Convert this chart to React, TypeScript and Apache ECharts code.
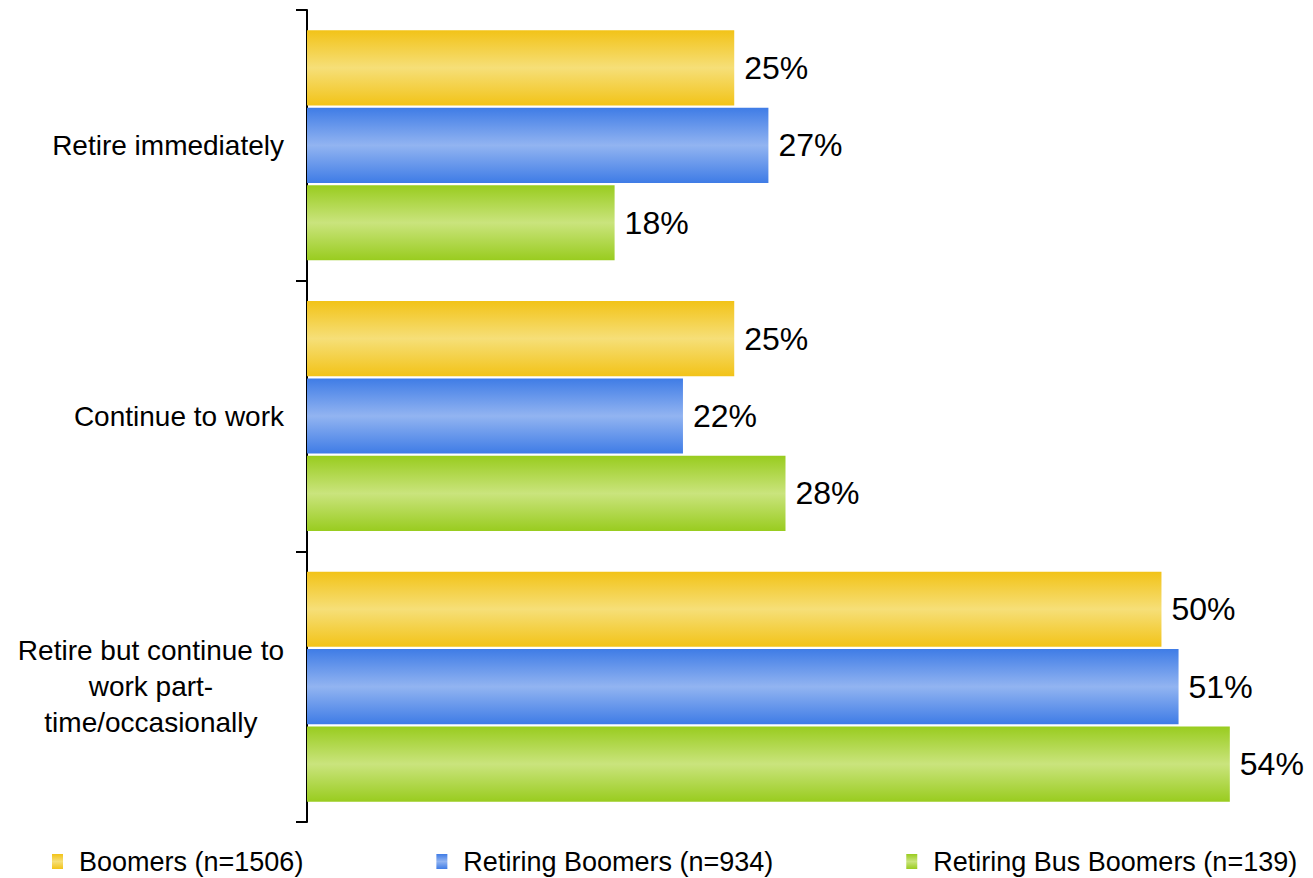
import React, { useEffect, useRef } from "react";
import * as echarts from "echarts";

const categories = [
  "Retire immediately",
  "Continue to work",
  "Retire but continue to work part-time/occasionally",
];
const seriesNames = [
  "Boomers (n=1506)",
  "Retiring Boomers (n=934)",
  "Retiring Bus Boomers (n=139)",
];
const boomers = [25, 25, 50];
const retiringBoomers = [27, 22, 51];
const retiringBusBoomers = [18, 28, 54];

const FONT = "'Liberation Sans', Arial, sans-serif";

const grad = (edge: string, mid: string) =>
  new echarts.graphic.LinearGradient(0, 0, 0, 1, [
    { offset: 0, color: edge },
    { offset: 0.5, color: mid },
    { offset: 1, color: edge },
  ]);

export default function App() {
  const ref = useRef<HTMLDivElement>(null);
  useEffect(() => {
    if (!ref.current) return;
    const chart = echarts.init(ref.current, undefined, { renderer: "svg" });
    const colors = [
      grad("#F2C318", "#F6DF78"),
      grad("#3F7CE6", "#92B4F1"),
      grad("#99CC1F", "#CAE47D"),
    ];
    const data = [boomers, retiringBoomers, retiringBusBoomers];
    chart.setOption({
      animation: false,
      grid: { left: 307, top: 10, bottom: 56, right: 49, containLabel: false },
      legend: {
        top: 848,
        left: 52,
        padding: 0,
        itemGap: 133,
        itemWidth: 11,
        itemHeight: 15,
        icon: "rect",
        data: seriesNames,
        textStyle: { fontFamily: FONT, fontSize: 27, color: "#000", padding: [0, 0, 0, 11] },
      },
      xAxis: {
        type: "value",
        min: 0,
        max: 56,
        show: false,
      },
      yAxis: {
        type: "category",
        inverse: true,
        data: categories,
        axisLine: { show: true, lineStyle: { color: "#000", width: 2 } },
        axisTick: { show: true, length: 11, lineStyle: { color: "#000", width: 2 } },
        axisLabel: {
          margin: 23,
          fontFamily: FONT,
          fontSize: 28,
          color: "#000",
          lineHeight: 36,
          formatter: (v: string) => {
            if (v.startsWith("Retire but")) {
              return ["{c|Retire but continue to}", "{c|work part-}", "{c|time/occasionally}"].join("\n");
            }
            return v;
          },
          rich: {
            c: { align: "center", fontFamily: FONT, fontSize: 28, color: "#000", lineHeight: 36 },
          },
        },
      },
      series: seriesNames.map((name, i) => ({
        name,
        type: "bar",
        data: data[i],
        barGap: "3%",
        barCategoryGap: "15%",
        itemStyle: { color: colors[i] },
        label: {
          show: true,
          position: "right",
          distance: 10,
          formatter: "{c}%",
          fontFamily: FONT,
          fontSize: 32,
          color: "#000",
        },
      })),
    });
    return () => chart.dispose();
  }, []);
  return (
    <div
      ref={ref}
      style={{ position: "absolute", left: 0, top: 0, width: 1313, height: 878, background: "#fff" }}
    />
  );
}
